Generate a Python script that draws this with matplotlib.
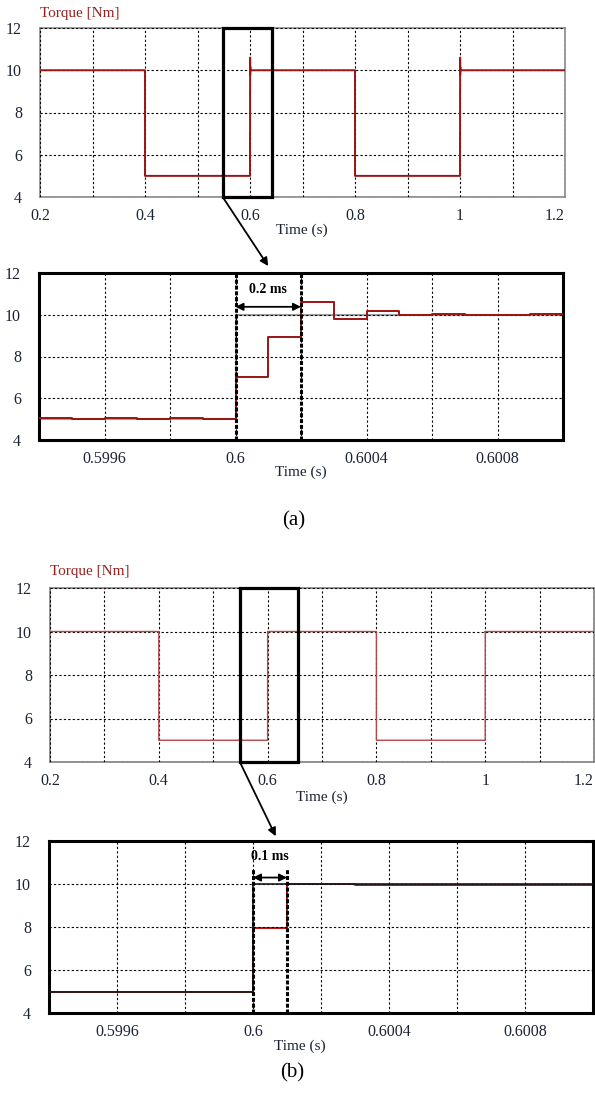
import matplotlib
matplotlib.use("Agg")
import matplotlib.pyplot as plt
from matplotlib.patches import Rectangle, ConnectionPatch
import numpy as np

plt.rcParams['font.family'] = ['Liberation Serif', 'DejaVu Serif']

# ---------------- data ----------------
# coarse torque profile (s, Nm) for the overview panels
coarse_edges = [0.2, 0.4, 0.6, 0.8, 1.0, 1.2]
coarse_levels = [10, 5, 10, 5, 10]

# zoomed detail (a): step edges and held values
a_edges = [0.5994, 0.5995, 0.5996, 0.5997, 0.5998, 0.5999, 0.6000, 0.6001,
           0.6002, 0.6003, 0.6004, 0.6005, 0.6006, 0.6007, 0.6008, 0.6009, 0.6010]
a_values = [5.05, 5.0, 5.05, 5.0, 5.05, 5.0, 7.0, 8.95,
            10.6, 9.78, 10.18, 9.98, 10.05, 10.0, 10.0, 10.05]

# zoomed detail (b)
b_edges = [0.5994, 0.6000, 0.6001, 0.6003, 0.6010]
b_values = [5.0, 7.95, 10.0, 9.97]

# reference torque in zoom
ref_edges = [0.5994, 0.6000, 0.6010]
ref_values = [5.0, 10.0]

overview_xticks = [0.2, 0.4, 0.6, 0.8, 1.0, 1.2]
overview_xticklabels = ["0.2", "0.4", "0.6", "0.8", "1", "1.2"]
zoom_xticks = [0.5996, 0.6000, 0.6004, 0.6008]
zoom_xticklabels = ["0.5996", "0.6", "0.6004", "0.6008"]
yticks = [4, 6, 8, 10, 12]

# ---------------- helpers ----------------
W, H = 595, 1108
fig = plt.figure(figsize=(W / 100, H / 100), dpi=100)

def px_axes(l, t, r, b):
    return fig.add_axes([l / W, 1 - b / H, (r - l) / W, (b - t) / H])

def step_xy(edges, vals):
    x = np.repeat(edges, 2)[1:-1]
    y = np.repeat(vals, 2)
    return x, y

def overview_series(detail_edges, detail_vals, transient_at):
    # coarse profile with zoom detail inserted at transient instants
    xs, ys = [], []
    for i, lvl in enumerate(coarse_levels):
        t0, t1 = coarse_edges[i], coarse_edges[i + 1]
        xs += [t0, t1]
        ys += [lvl, lvl]
    x = np.array(xs)
    y = np.array(ys, dtype=float)
    dx, dy = step_xy(detail_edges, detail_vals)
    out_x, out_y = list(x), list(y)
    for tt in transient_at:
        m = (dx >= 0.6) & (dx <= 0.6005)
        ins_x = list(dx[m] - 0.6 + tt)
        ins_y = list(dy[m])
        idx = [k for k in range(len(out_x)) if abs(out_x[k] - tt) < 1e-9]
        k = idx[0]
        out_x = out_x[:k + 1] + ins_x + out_x[k + 1:]
        out_y = out_y[:k + 1] + ins_y + out_y[k + 1:]
    return np.array(out_x), np.array(out_y)

tick_color = '#1c2333'
red = '#9b1414'
label_red = '#9a2020'

def style_common(ax, spine_color, spine_lw):
    ax.set_ylim(4, 12)
    ax.set_yticks(yticks)
    ax.tick_params(axis='both', length=0, labelsize=11.5, colors=tick_color)
    ax.tick_params(axis='y', pad=13)
    ax.tick_params(axis='x', pad=8)
    for s in ax.spines.values():
        s.set_color(spine_color)
        s.set_linewidth(spine_lw)
    ax.grid(True, which='both', color='black', linestyle=(0, (2, 2)), linewidth=0.8)
    ax.set_axisbelow(False)

# ---------------- panel 1: overview (a) ----------------
ax1 = px_axes(40, 28, 565, 197)
x1, y1 = overview_series(a_edges, a_values, [0.6, 1.0])
ax1.plot(x1, y1, color=red, lw=1.4, zorder=3)
ax1.set_xlim(0.2, 1.2)
ax1.set_xticks(overview_xticks)
ax1.set_xticklabels(overview_xticklabels)
ax1.set_xticks(np.arange(0.3, 1.2, 0.2), minor=True)
ax1.tick_params(which='minor', length=0)
style_common(ax1, '#8a8a8a', 1.2)
ax1.get_xticklabels()[-1].set_ha('right')
rect1 = Rectangle((0.548, 4), 0.094, 8, fill=False, ec='black', lw=2.3,
                  clip_on=False, zorder=5)
ax1.add_patch(rect1)
fig.text(40 / W, 1 - 13 / H, "Torque [Nm]", color=label_red, fontsize=11, va='center', ha='left')
fig.text(302 / W, 1 - 230 / H, "Time (s)", color=tick_color, fontsize=11, va='center', ha='center')

# ---------------- panel 2: zoom (a) ----------------
ax2 = px_axes(39, 273, 563, 440)
rx, ry = step_xy(ref_edges, ref_values)
ax2.plot(rx, ry, color='#a0a0a0', lw=1.5, zorder=2)
x2, y2 = step_xy(a_edges, a_values)
ax2.plot(x2, y2, color=red, lw=1.4, zorder=3)
ax2.set_xlim(0.5994, 0.6010)
ax2.set_xticks(zoom_xticks)
ax2.set_xticklabels(zoom_xticklabels)
ax2.set_xticks([0.5998, 0.6002, 0.6006], minor=True)
ax2.tick_params(which='minor', length=0)
style_common(ax2, 'black', 2.2)
for xv in [0.6000, 0.6002]:
    ax2.axvline(xv, color='black', lw=2.2, linestyle=(0, (1.3, 0.6)), zorder=4)
ax2.annotate("", xy=(0.6000, 10.38), xytext=(0.6002, 10.38),
             arrowprops=dict(arrowstyle='<|-|>', color='black', lw=1.3,
                             shrinkA=0, shrinkB=0, mutation_scale=11), zorder=5)
ax2.text(0.6001, 11.2, "0.2 ms", ha='center', va='center', fontsize=10,
         fontweight='bold', color='black')
fig.text(301 / W, 1 - 472 / H, "Time (s)", color=tick_color, fontsize=11, va='center', ha='center')

con1 = ConnectionPatch(xyA=(0.548, 4), coordsA=ax1.transData,
                       xyB=(0.60010, 12.33), coordsB=ax2.transData,
                       arrowstyle='-|>', color='black', lw=1.3, mutation_scale=12)
fig.add_artist(con1)

fig.text(294 / W, 1 - 521 / H, "(a)", color='black', fontsize=15, va='center', ha='center')

# ---------------- panel 3: overview (b) ----------------
ax3 = px_axes(50, 588, 594, 762)
x3, y3 = overview_series(b_edges, b_values, [0.6, 1.0])
ax3.plot(x3, y3, color='#b44848', lw=1.0, zorder=3)
ax3.set_xlim(0.2, 1.2)
ax3.set_xticks(overview_xticks)
ax3.set_xticklabels(overview_xticklabels)
ax3.set_xticks(np.arange(0.3, 1.2, 0.2), minor=True)
ax3.tick_params(which='minor', length=0)
style_common(ax3, '#8a8a8a', 1.3)
ax3.get_xticklabels()[-1].set_ha('right')
rect3 = Rectangle((0.549, 4), 0.107, 8, fill=False, ec='black', lw=2.3,
                  clip_on=False, zorder=5)
ax3.add_patch(rect3)
fig.text(50 / W, 1 - 571 / H, "Torque [Nm]", color=label_red, fontsize=11, va='center', ha='left')
fig.text(322 / W, 1 - 797 / H, "Time (s)", color=tick_color, fontsize=11, va='center', ha='center')

# ---------------- panel 4: zoom (b) ----------------
ax4 = px_axes(49, 841, 593, 1013)
x4, y4 = step_xy(b_edges, b_values)
ax4.plot(x4, y4, color='#c01010', lw=1.4, zorder=2)
rx, ry = step_xy(ref_edges, ref_values)
ax4.plot(rx, ry, color='#1a1a1a', lw=1.2, zorder=3)
ax4.set_xlim(0.5994, 0.6010)
ax4.set_xticks(zoom_xticks)
ax4.set_xticklabels(zoom_xticklabels)
ax4.set_xticks([0.5998, 0.6002, 0.6006], minor=True)
ax4.tick_params(which='minor', length=0)
style_common(ax4, 'black', 2.2)
for xv in [0.6000, 0.6001]:
    ax4.plot([xv, xv], [4, 10.75], color='black', lw=2.2, linestyle=(0, (1.3, 0.6)), zorder=4)
ax4.annotate("", xy=(0.6000, 10.3), xytext=(0.6001, 10.3),
             arrowprops=dict(arrowstyle='<|-|>', color='black', lw=1.3,
                             shrinkA=0, shrinkB=0, mutation_scale=11), zorder=5)
ax4.text(0.60005, 11.3, "0.1 ms", ha='center', va='center', fontsize=10,
         fontweight='bold', color='black')
fig.text(300 / W, 1 - 1046 / H, "Time (s)", color=tick_color, fontsize=11, va='center', ha='center')

con2 = ConnectionPatch(xyA=(0.549, 4), coordsA=ax3.transData,
                       xyB=(0.600067, 12.22), coordsB=ax4.transData,
                       arrowstyle='-|>', color='black', lw=1.3, mutation_scale=12)
fig.add_artist(con2)

fig.text(292 / W, 1 - 1073 / H, "(b)", color='black', fontsize=15, va='center', ha='center')

fig.savefig("out.png", dpi=100, facecolor='white')
